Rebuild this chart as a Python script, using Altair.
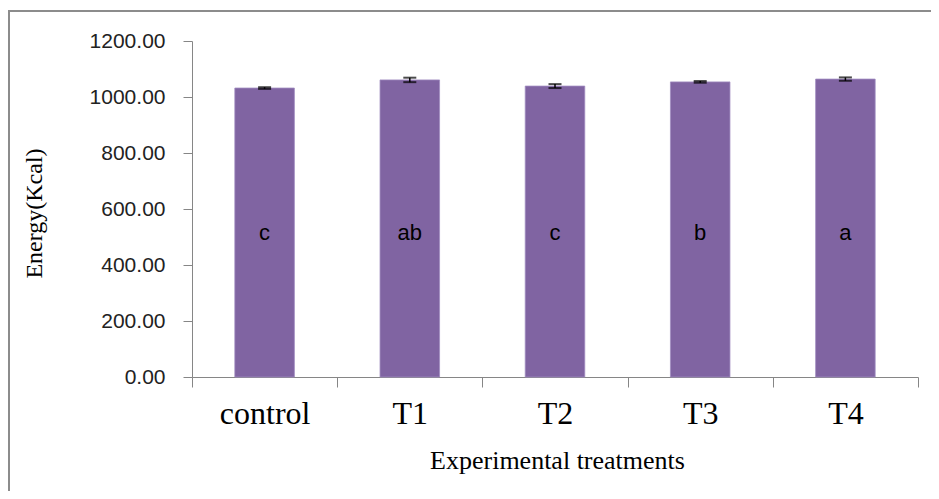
import altair as alt
import pandas as pd

treatments = ["control", "T1", "T2", "T3", "T4"]
energy = [1032, 1061, 1039, 1054, 1064]
errors = [3, 8, 7, 3, 6]
letters = ["c", "ab", "c", "b", "a"]
letter_level = 488

df = pd.DataFrame({
    "treatment": treatments,
    "energy": energy,
    "lo": [e - s for e, s in zip(energy, errors)],
    "hi": [e + s for e, s in zip(energy, errors)],
    "letter": letters,
    "lvl": [letter_level] * len(treatments),
})

W, H = 726, 336
AX = "#868686"
xs = alt.Scale(domain=treatments, paddingInner=0, paddingOuter=0)

x = alt.X("treatment:N", sort=treatments, title="Experimental treatments", scale=xs,
          axis=alt.Axis(labelAngle=0, labelFont="Liberation Serif", labelFontSize=32,
                        labelColor="#000000", labelBaseline="alphabetic", labelPadding=36,
                        tickSize=10, tickBand="extent", tickColor=AX, domainColor=AX,
                        titleFont="Liberation Serif", titleFontSize=26, titleFontWeight="normal",
                        titleColor="#000000", titleX=365, titleY=91, titleBaseline="alphabetic",
                        titleAnchor="middle", titleAlign="center"))

y_axis = alt.Axis(values=[0, 200, 400, 600, 800, 1000, 1200], format=".2f",
                  labelFont="Liberation Sans", labelFontSize=21, labelColor="#222222",
                  labelPadding=18, tickSize=9, tickColor=AX, domainColor=AX, grid=False,
                  title="Energy(Kcal)", titleFont="Liberation Serif", titleFontSize=24,
                  titleFontWeight="normal", titleColor="#000000", titleAngle=270,
                  titleX=-158, titleY=172, titleAlign="center", titleBaseline="middle")

base = alt.Chart(df)
xe = alt.X("treatment:N", sort=treatments, scale=xs)

bars = base.mark_bar(color="#8064A2", stroke="#a08cc0", strokeWidth=0.8,
                     width={"band": 0.41}).encode(
    x=x,
    y=alt.Y("energy:Q", scale=alt.Scale(domain=[0, 1200], nice=False), axis=y_axis),
)

rules = base.mark_rule(color="#000000", strokeWidth=1.5).encode(x=xe, y="lo:Q", y2="hi:Q")
caps_lo = base.mark_tick(color="#000000", size=13, thickness=2).encode(x=xe, y="lo:Q")
caps_hi = base.mark_tick(color="#000000", size=13, thickness=2).encode(x=xe, y="hi:Q")

text = base.mark_text(font="Liberation Sans", fontSize=22, color="#000000",
                      baseline="alphabetic", align="center").encode(
    x=xe, y="lvl:Q", text="letter:N")

one = alt.Chart(pd.DataFrame({"a": [0]}))
border_top = one.mark_rule(color="#8c8c8c", strokeWidth=2).encode(
    x=alt.value(-183), x2=alt.value(760), y=alt.value(-30))
border_left = one.mark_rule(color="#8c8c8c", strokeWidth=2).encode(
    x=alt.value(-183), y=alt.value(-31), y2=alt.value(480))

chart = alt.layer(bars, rules, caps_lo, caps_hi, text, border_top, border_left).properties(
    width=W, height=H,
    autosize=alt.AutoSizeParams(type="none"),
    padding={"left": 184, "top": 33, "right": 13, "bottom": 114},
    background="#ffffff",
).configure_view(strokeWidth=0, stroke=None)

chart.save("out.html", embed_options={"renderer": "svg", "actions": False})
